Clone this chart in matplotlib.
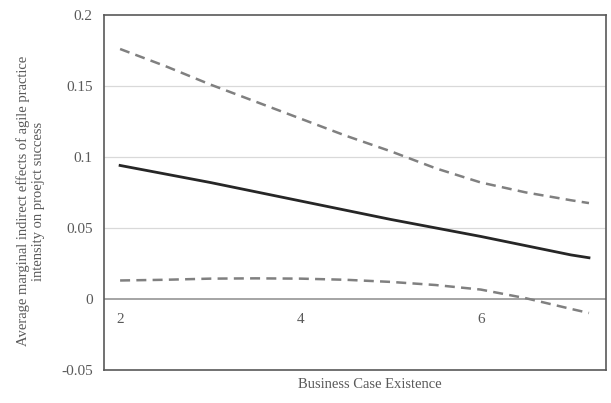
import matplotlib.pyplot as plt

plt.rcParams['font.family'] = ['Liberation Serif', 'DejaVu Serif']

# Business case existence and marginal indirect effect with confidence bounds
x = [2, 2.5, 3, 3.5, 4, 4.5, 5, 5.5, 6, 6.5, 7, 7.2]
effect = [0.094, 0.088, 0.082, 0.0755, 0.069, 0.0625, 0.056, 0.050, 0.044, 0.0375, 0.031, 0.029]
upper = [0.176, 0.164, 0.151, 0.139, 0.127, 0.115, 0.104, 0.092, 0.082, 0.075, 0.0695, 0.0675]
lower = [0.013, 0.0135, 0.0143, 0.0145, 0.0143, 0.0135, 0.012, 0.0098, 0.0066, 0.0005, -0.007, -0.0099]

yticks = [-0.05, 0, 0.05, 0.1, 0.15, 0.2]
ytick_labels = ['-0.05', '0', '0.05', '0.1', '0.15', '0.2']
xticks = [2, 4, 6]

text_color = '#595959'

fig = plt.figure(figsize=(6.11, 4.03), dpi=100)
ax = fig.add_axes([0.170, 0.082, 0.822, 0.881])

for y in [0.05, 0.1, 0.15]:
    ax.axhline(y, color='#d9d9d9', lw=0.9, zorder=1)
ax.axhline(0, color='#8c8c8c', lw=1.1, zorder=1)

ax.plot(x, upper, color='#808080', lw=1.8, linestyle=(0, (4, 2.5)), zorder=3)
ax.plot(x, lower, color='#808080', lw=1.8, linestyle=(0, (4, 2.5)), zorder=3)
ax.plot(x, effect, color='#262626', lw=2.0, zorder=4)

ax.set_xlim(1.82, 7.39)
ax.set_ylim(-0.05, 0.2)
ax.set_yticks(yticks)
ax.set_yticklabels(ytick_labels)
ax.tick_params(axis='y', length=0, pad=8, labelsize=11, labelcolor=text_color)
ax.set_xticks([])

for side in ['left', 'right', 'top', 'bottom']:
    ax.spines[side].set_color('#595959')
    ax.spines[side].set_linewidth(1.2)

# x tick labels sit just under the zero line
zero_frac = (0 - (-0.05)) / 0.25
sec = ax.secondary_xaxis(zero_frac)
sec.set_xticks(xticks)
sec.tick_params(length=0, pad=10, labelsize=11, labelcolor=text_color)
sec.spines['bottom'].set_visible(False)

fig.text(0.605, 0.045, 'Business Case Existence', ha='center', va='center',
         fontsize=10.5, color=text_color)
fig.text(0.05, 0.501,
         'Average marginal indirect effects of agile practice\nintensity on proejct success',
         ha='center', va='center', rotation=90, fontsize=10.5, color=text_color,
         linespacing=1.25)

fig.savefig('out.png', dpi=100)
